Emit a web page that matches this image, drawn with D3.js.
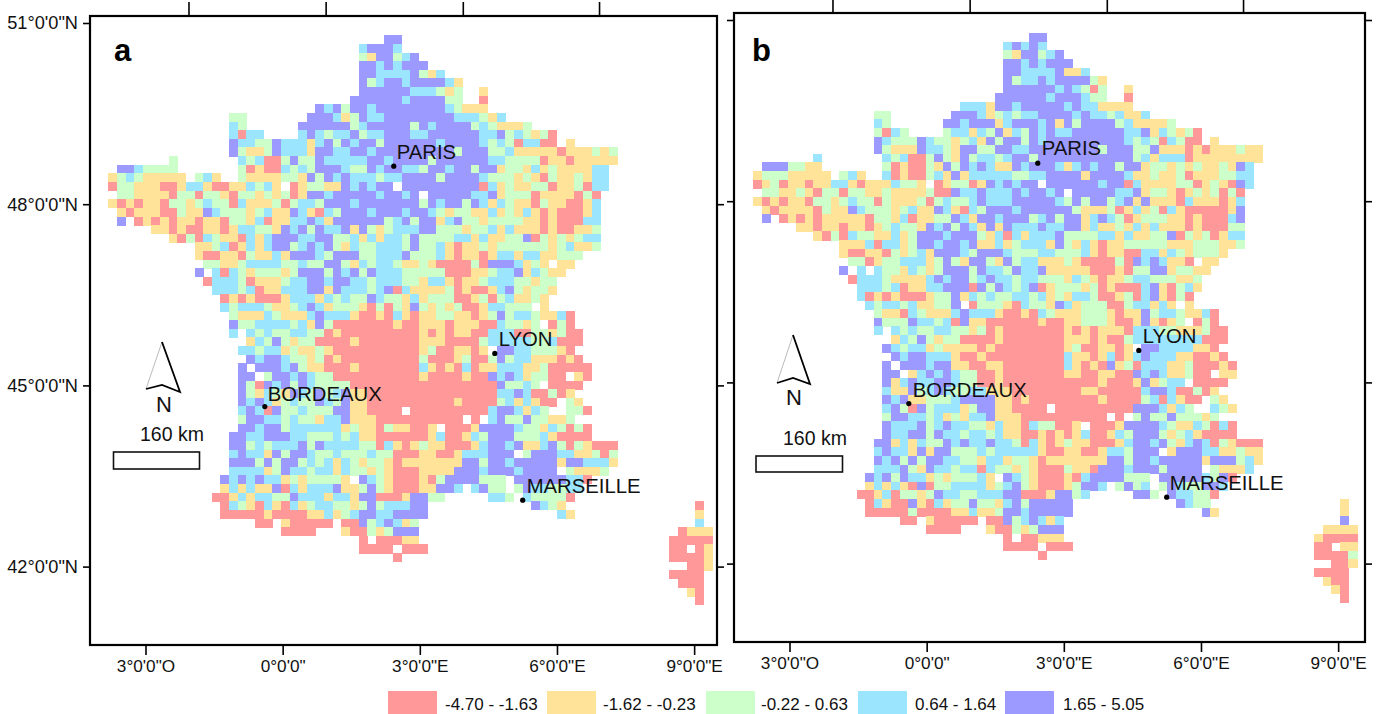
<!DOCTYPE html>
<html><head><meta charset="utf-8">
<style>html,body{margin:0;padding:0;background:#fff;overflow:hidden}text{font-family:"Liberation Sans",Arial,sans-serif;fill:#111}</style>
<script src="https://cdn.jsdelivr.net/npm/d3@7/dist/d3.min.js"></script>
</head><body><svg id="c" width="1383" height="714"></svg>
<script>
const classColors = ["#ffffff","#ff9999","#ffe399","#ccffc9","#9be5ff","#9c99ff"];
const legendLabels = ["-4.70 - -1.63","-1.62 - -0.23","-0.22 - 0.63","0.64 - 1.64","1.65 - 5.05"];
const lonTicks = [-3,0,3,6,9];
const lonLabels = ["3°0'0\"O","0°0'0\"","3°0'0\"E","6°0'0\"E","9°0'0\"E"];
const latTicks = [51,48,45,42];
const latLabels = ["51°0'0\"N","48°0'0\"N","45°0'0\"N","42°0'0\"N"];
const topTicks = [-2.06,0.94,3.94,6.92];
const cities = [["PARIS",2.43,48.63],["LYON",4.64,45.53],["BORDEAUX",-0.39,44.65],["MARSEILLE",5.25,43.10]];

// class of each grid cell, one string per row: "startColumn: classes | startColumn: classes"; 0 = no data
const cellRowsA = [
"32:55",
"29:45554",
"29:3255345",
"29:55454555",
"29:5544445324",
"29:534554555542",
"29:555555 444323 | 43:2",
"28:5555554555533 | 43:1",
"24:54535545555555543222",
"14:33 | 23:55542354455555555444324",
"14:43 | 22:555555345555535455553432223",
"14:4144 | 22:454344534455544555555445343231",
"14:5 44 33 5 444 2 4 5 3 5 4 55 3 555555 4 5555 4 3 4 3 1 44 11 0 2",
"14:5 3 22 3 5 444 2 55 44 55 4 555555555 3 555 33 4 22222 1 222 3 2 3",
"7:3 | 15:4 3 4 11 3 5 33 5 44444 55 4 55 55 3 555555 44 3333 1 22 1 22222",
"1:55 4 3333 | 15:3 1 2 11 4 3 4 3 5 55 4 33 5 4 5 5 4 4 3 55 4 55 3 55 2 33 2 4 2 3 2222 44",
"0:2 3 4 3 22222 0 3 4 2 | 15:3 2222 33 2 5 3 5 4 5 444 3 44 5 555 3 5555 4 333 2 3 2 1 3 22 3 2 44",
"0:1 33 222 11 2 44 2 11 22 4 3 4 2 0 1 2 33 22 5 4 5 4 55 0 555555555 1 4 2 3 22 33 1 22 3 1 44",
"1:33 2222 1 33 1 33 2 1 33 2 3 2 3 1 2 55 4 55555 4 55 4 5 0 55555 44 5 2 333 1 2222 1 3 1",
"0:2 1 2 1 22 1 33 2 3 4 33 1 4 222 3 1 3 44 3 555 4 55555 55 3 5 4 55 3 5 4 2 4 3 22 1 3 22 11 2 4",
"1:2 1 222 11 3 22 5 4 333 2 3 4 22 5 4 2 1 4 3 555 4 555 4 55 4 3 2 33 22 4 2 3 2 4 2 1 2 111 2 4",
"1:5 0 1 2 1 2 1 22 1 22 1 33 2 4 1 22 44 5 4 2 555555 3 4 5 3 55 2 4 5 33 2 3333 22 1 2 111 44",
"5:22 1 2 11 22 1 2 44 33 2 5 4 5 3 5 44 5 2 5 3 2 3 4 44 55 333 2 33 4 2 4 222 1 2 11 22 3",
"7:2 1 3 1 4 3 22 1 4 2 4 555 44 55 33 4 2 4 2 44 3 5 3333 44 2 4 22 33 5 1 3 2 3 2 3 44",
"10:22 3 4 1 2 4 2 4 55 3 4 5 4 5 3 2 4 33 444 3 5 33 4 2 1 22 3 2 333333 2 3 4 22 3",
"10:2 11 22 1 3 22 4 2 555 4 3 555 33 444 5 333 4 2 1 22 1 2 44 2 44 22 333",
"11:33 22 3 4444 33 4 33 55 3 2 4 3 44 3 22 3 2 1111 3 1 555 4 2 3 2 0 22",
"10:5 0 4 1 4 3 2 333 2 3 555 3 5 4 5 3 5 444 33333 111 22 3 44 5 2 4 3 22",
"11:1 444 3 1 222 3 44 55 4 55 44 3 444 33 2 44 2 1 22 3 444 33 2 33",
"12:444 3 4 1 22 444 55 2 5 444 3 4 5 1 4 2222 3 1 2 11 2 4 5 3 2 33 2",
"13:1 2 1 2 111 2 444 2 4 3 4 33 5 4 33 2 4 2 333 11 2 3 1 3 4 22 3 2",
"13:4 3 444 3 22 3 4 5 4 2 333 2 1 3 1 3 2 5 3 2 3 2 3 11 2 44 333 0 2",
"14:3 222 4 3 222 4 5 444 2 11 2 1 4 2 1 22 33 22 1 2 3 5 3 44 3 22 4 1",
"14:5 33 4444 3 4 2 5 3 1111111 2 11 222 1 222 11 4 33 2 3 0 1 3 1",
"14:4 0 4 3 4 33 44 33 1 2 1111111 11 2 1 2 1 22 11 4 44 11 33 2 3 11",
"16:2 4 3 5 3 2 33 1111 2 11111 11 222 1111 3 4 4444 33 4 111",
"15:44 3 44 2 3 22 3 2 11111111 11 2 3 11 22 1 2 0 55 44 333 2 1",
"16:5 4 55 4 33 2 3 1 2 1111111 11 3 111 2 3 11 3 5 3 44 222 1 2 1",
"15:5 0 555 4 5 3 22 111 2 11111 11 4 2 1 2 1 4 1 22 444 22 3 11111",
"15:55 0 3 55 4 5 4 33 11111111 11 2 1111 2 11 5 4 5 4 2 33 11 0 2 1",
"15:5 3 1 5 4 5 3 5 4 33 33 111111 11111111111 5 33 4 3 0 1111",
"15:5 3 2 4 3 2 5 4 3 5 3 4 5 22 1111 11111111111 44 5 4 11 3 1 2",
"15:5 4 5 4 2 3 4 33 5 4 3 5 22 1111111111 2 1111 3 4 2 4 2 11 0 3 2",
"15:4 5 4 1 5 33 4 333 55 22 1111 0 111111111 4 55 4 2 4 3 00 33 1",
"15:3 55 44 3 4 33 2 44 5 222 1111111111 0 1 0 4 5 33 5 33 22 3",
"15:55 4 55 3 444444 2 3 22 1 3 22 11 2 0 11 1 2 5555 4 33 2 4 3 1 3 1",
"14:55 44 555 44 333 4 3 4 22 111111 2 4 11 2 4 3 555 333 4 2 1111",
"14:55 3 4 3 444 5 3 5 4444 33 1 4 2 1 2 3 22 111 2 4 55 4 5 22 4 5 3 1 3 2 111",
"14:4 5 44 2 5 3 55 4 33 4 333 4 33 111 22 11 2 444 555 0 3 555 44 22 3 1 3",
"14:555 3 5 3 55 3 4 3 4 2 4 3 2 33 2 1 2222222 55 3 55 4 55555 2 55 444 2",
"14:4444 2 3 5 44 3 44 2 4 33 2 3 2 111 2222 555 4 555 4 5555 0 3 222 3",
"13:5 4 5 4 5 44 2 3 2 3333 2 0 5 4 3 2 111 2 1 3 5555 333 0 555555 44 1",
"13:2 4 2 4 22 5 1 4 2 444 5 22 3 5 3 2 111 22 55 4 0 4 5 33 0 3 5 44 33 44",
"12:11 2 4 2 44 33 5 444 2 44 2 55 111 2 55 33 | 44:44 3 0 4 3333 1",
"13:1 4 3 2 1 4 2 1 4 2 3 44 33 2 3 5 3 444 55 | 49:5 4 3 2 | 68:1",
"13:11111 2 1111 22 4 2 3 4 55 44 5555 | 52:4 2 | 68:2",
"17:11 0 2 11111 0 11 5 3 4 5 4 2 3 | 68:4",
"20:1111 000 2 11 3 2 3 555 | 66:1 222",
"29:1 0 111 22 | 65:11111",
"29:1111 0 111 | 65:11 0 1 2",
"33:1 | 65:1111 2",
"67:11 2",
"65:1111",
"66:111",
"67:2 1",
"68:1"
];
const cellRowsB = [
"32:55",
"29:4 5 4 5 4",
"29:3 2 55 3 4 5",
"29:5 5 4 5 4 555",
"29:55 4444 5 22 4",
"29:5 3 44 5 4 5555 3 2",
"29:555555 4 5 4 3 1 3 | 43:2",
"28:555555 4 555 4 33 | 43:1",
"24:444 2 55 4 55555 4 5 44 2222",
"14:33 | 23:555 4 2 3 4 3 44 5555 4 5 44 3 4 22 4",
"14:43 | 22:55 4 555 2 4 555 4 5 2 5 3 5555 3 4 2222 3",
"14:3 1 4 3 | 22:3 44 2 4 3 5 2 4 3 5 4 5 44 555555 44 5 2 4 3 2 3 1",
"14:5 4 333 5 4 33 2 3 4 2 5 3 55 3 5 4 555555555 4 3 4 3 1 4 3 11 0 2",
"14:5 3 222 5 44 3 2 55 33 55 44 5 5555555 3 555 33 5 222 1 2 1 222 3 22",
"7:4 | 15:4 3 4 11 3 5 3 2 5 3 44 3 4 55 3 55555555555 3 4 2 444 1 22222222",
"1:555 33 22 | 15:3 1 2 11 3 2 5 3 5 4 5 4 22 5 4 555 4 2 4 5 4 55 3 55 2 33 2 3 2 3 22 3 2 5 4",
"0:2 333 22222 0 3 4 2 | 15:4 1 2 11 3 4 2 5 2 44 444 33 44 5555 2 5555 4 22 3 22 3 1 222 33 44",
"0:1 2 3 1 22 1 22 44 2 1 222 4 33 2 0 1 2 33 1 2 5 4 5 4 55 0 555555 4 55 1 4 2222 33 1 2 3 2 1 5 4",
"1:33 22 3 2 1 33 1 33 22 3 2222 3 11 5 44 5 444 5 4 55 4 5 0 55555 44 5 2 33 2 1 2 3 2 3 1 3 1",
"0:2 1 2 1 22 1 33 2 3 4 33 1 3 222 3 1 3 4 33 4 5 444 55555 4 3 5 3 55 3 4 5 2 5 222 1 4 222 1 2 4",
"1:2 1 2222 1 3 22 5 4 333 2 3 4 22 5 4 2 1 4 3 555 4 555555 3 222 3 1 2 4 2 3 1 4 2 11111 2 5",
"1:5 0 1 2 1 2 1 22222 1 33 2 4 1 22 33 5 4 2 55 4 5 55 3 4 5 3 55 2 4 5 4 3 1 2 333 22 1 2 111 4 5",
"5:22 1 22 1 22 1 2 3 4 33 2 5 4 5 3 5 4 2 5 2 5 444 5 44 55 2 4 22 3 2 4 2 4 222 1 2 111 33",
"7:2 1 3 1 4 33 22 4 2 3 555 4 555 3 2 4 1 4 2 44 4 5 3333 44 2 4 22 33 5 1 3 2 3 1 2 44",
"10:222 4 1 44 2 3 55 4 55 4 5 22 4 2 3 444 2 5 3 2 4 2 1 22 33 333 222 333 22 3",
"10:2 11 22 1 3 2 3 4 2 555 4 3 555 4 333 44 333 4 2 1 22 11 44 2 4 3 2 333 2",
"11:33 1 2 33 444 2 3 5 3 2 55 3 2 5 3 44 222 3 2 1111 3 1 5 4 5 4 22 1 0 22",
"10:5 0 4 0 4 33 2 4 3 2 3 555 3 5 44 3 5 44 5 22222 111 2 1 33 55 2 33 22",
"11:1 444 3 2222 4 5 4 55 3 4 5 44 3 44 333 2 4 3 2 1 22 3 44 333 22 3",
"12:444 3 4 1 22 44 555 1 5 3 5 4 3 4 5 1 2 333 2 3 1 2 111 4 5 2 1 3 4 2",
"12:4 1 2 1 2 111 2 33 5 2 4 3 4 33 44 3 4 2 3 2 44 3 11 2 3 1 4 5 2 1 3 1",
"13:4 3 44 3 4 22 33 5 0 1 333 2 1 4 33 2 5 4 2 333 11 3 44 2 4 2 0 2",
"14:3 22 1 4 3 222 4 5 444 2 11 2 1 4 3 222 333 2 1 22 5 3 44 3 22 4 1",
"14:5 333 5 44 3 4 1 5 22 111 111 2 11 22 333 2 11 2 5 2 1 2 3 0 1 3 1",
"14:4 0 4 3 4 33 44 33 2 3 1 2 1111111 2 1 2 1 222 1 4 44 33 222 3 11",
"16:2 4 3 5 3 2 33 1111 2 1111111 222 1 2 11 3 4 444444 4 111",
"15:5 4 3 44 2 3 2222 1 2 11111111 2 3 11 22 1 2 0 55 4444 22 1",
"16:5 4 55 444 2 11 2 111111111 4 22 1 2 4 1 2 4 5 444 22 11 2 1",
"15:5 0 555 4 55 22 11 22 1111111 4 2 1 2 1 5 2 3 1 444 22 3 111 2 1",
"15:55 0 2 4 5 4 5 4 33 11 2 1111111 22 11 22 11 5 4 5 4 22 3 11 0 22",
"15:5 2 4 5 44 55 4 33 11 2 11111111111 2 111 2 5 2 3 44 0 1111",
"15:4 2 2 5 3 4 5 4 33 44 2 22 11111111 22 11111 4 55 4 11 3 1 2",
"15:5 4 5 22 333 4 5555 22 1 2 11111111 2 1111 3 4 1 4 2 11 0 3 2",
"15:4 5 3 1 5 3 4 44 2 3 55 22 1111 0 111111111 555 4 2 4 3 00 4 3 2",
"15:3 55 44 3 4 2 3 2 44 5 222 1111111111 0 1 0 3 5 33 5 333 2 3",
"15:5 444 5 3 4 5 44 33 2 4 22 1 4 33 11 2 0 111 2 5555 4 3 22 4 3 1 4 1",
"15:5 44 55 3 5 44 3 44 3 4 22 11 2 1 2 1 2 4 11 2 4 3 555 3 2 3 4 2 1111",
"14:55 2 4 2 4 33 5 4 5 44 5 44 3 1 4 2 1 2 3 22 111 2 4 55 4 5 3 2 4 5 4 1 3 2 111",
"14:4 5 44 2 5 2 55 333 4 3 44 444 2 11 22 11 2 44 3 555 0 2 555 44 22 3 22",
"14:5 4 5 3 5 3 55 44 33 2 4 4 2 33 2 1 2222222 55 3 55 4 55555 2 555 3 4 2",
"14:444 5 3 2 5 44 3 44 1 4 33 2 3 2 111 3 22 1 555 4 555 3 5555 0 3 222 4",
"13:5 4 5 3 5 44 2 3 2 333 4 2 0 5 4 3 2 111 2 1 4 5555 333 0 55555 4 3 5 1",
"13:2 4 2 4 2 1 5 1 33 444 4 2 3 4 5 3 2 111 2 3 55 4 0 3 5 3 4 0 3 5 4 33 55 4",
"12:11 2 4 1 33 2 3 5 44 33 444 55 111 2 55 3 4 | 44:55 3 0 5 44 33 1",
"13:1 4 2 11 5 2 1 4 2 33 5 33 2 4 5 3 55555 | 49:5 4 33 | 68:2",
"13:11111 3 1111 22 4 22 3 55 4 55555 | 52:5 2 | 68:2",
"17:11 0 2 11111 0 11 5 3 4 5 4 2 4 | 68:5",
"20:1111 000 2 11 3 2 3 555 | 66:2222",
"29:1 0 11 222 | 65:2 1111",
"29:1111 0 111 | 65:11 0 22",
"33:1 | 65:1111 3",
"67:11 2",
"65:1111",
"66:2 11",
"67:2 1",
"68:1"
];

function parseRows(rows){
  const cells=[];
  rows.forEach((s,row)=>s.split("|").forEach(seg=>{
    const [st,d]=seg.split(":");
    [...d.replace(/\s/g,"")].forEach((ch,i)=>{ if(ch!=="0") cells.push({col:+st+i,row,cls:+ch}); });
  }));
  return cells;
}

const svg=d3.select("#c");
const panels=[
 {name:"a",rows:cellRowsA,frame:[90,16,717,645],gridX:108.3,gridY:35.3,lon0:145.5,lat0:23,
  nameX:114,nameY:61,arrow:[[162,342],[146,389],[162,385],[180,392]],nXY:[164,412],kmXY:[172,441],box:[113.5,452,199.5,469],
  labelOff:[[3,-7],[4,-7],[3,-6],[4,-7]]},
 {name:"b",rows:cellRowsB,frame:[734,13,1365,642],gridX:753,gridY:33,lon0:789.5,lat0:20,
  nameX:752,nameY:61,arrow:[[793,335],[777,383],[793,378],[810,384]],nXY:[794,405],kmXY:[815,445],box:[756,456,842.5,472],
  labelOff:[[4,-8],[4,-7],[4,-7],[3,-7]]}
];
const step=8.63, pxPerLon=45.72, pxPerLat=60.4;

panels.forEach(p=>{
  const g=svg.append("g");
  const cx=d3.scaleLinear().domain([0,70]).range([p.gridX,p.gridX+70*step]);
  const cy=d3.scaleLinear().domain([0,66]).range([p.gridY,p.gridY+66*step]);
  const color=d3.scaleOrdinal().domain(d3.range(6)).range(classColors);
  g.append("g").attr("shape-rendering","crispEdges").selectAll("rect").data(parseRows(p.rows)).join("rect")
    .attr("x",d=>cx(d.col)).attr("y",d=>cy(d.row))
    .attr("width",d=>cx(d.col+1)-cx(d.col)+0.4).attr("height",d=>cy(d.row+1)-cy(d.row)+0.4)
    .attr("fill",d=>color(d.cls));

  const [x0,y0,x1,y1]=p.frame;
  const lon=d3.scaleLinear().domain([-3,9]).range([p.lon0,p.lon0+12*pxPerLon]);
  const lat=d3.scaleLinear().domain([51,42]).range([p.lat0,p.lat0+9*pxPerLat]);

  const bot=g.append("g").attr("transform",`translate(0,${y1})`)
    .call(d3.axisBottom(lon).tickValues(lonTicks).tickSize(10).tickFormat((d,i)=>lonLabels[i]));
  bot.selectAll("text").attr("y",15).attr("dy","0.71em").style("font-size","17.2px").style("font-family","Liberation Sans").attr("fill","#111");
  g.append("g").attr("transform",`translate(0,${y0})`)
    .call(d3.axisTop(lon).tickValues(topTicks).tickSize(14).tickFormat(""));
  g.append("g").attr("transform",`translate(${x1},0)`)
    .call(d3.axisRight(lat).tickValues(latTicks.slice(p.name==="a"?1:0)).tickSize(7).tickFormat(""));
  const left=g.append("g").attr("transform",`translate(${x0},0)`)
    .call(d3.axisLeft(lat).tickValues(latTicks).tickSize(7).tickFormat(p.name==="a"?(d,i)=>latLabels[i]:""));
  left.selectAll("text").attr("x",-12).style("font-size","18.2px").style("font-family","Liberation Sans").attr("fill","#111");
  g.selectAll(".domain").remove();
  g.selectAll(".tick line").attr("stroke","#000").attr("stroke-width",1.6);

  g.append("rect").attr("x",x0).attr("y",y0).attr("width",x1-x0).attr("height",y1-y0)
    .attr("fill","none").attr("stroke","#000").attr("stroke-width",2.2);

  g.append("text").attr("x",p.nameX).attr("y",p.nameY).text(p.name)
    .style("font-size","31px").style("font-weight","bold").style("fill","#000");

  cities.forEach(([n,lo,la],i)=>{
    const px=lon(lo), py=lat(la);
    g.append("circle").attr("cx",px).attr("cy",py).attr("r",2.6).attr("fill","#000");
    g.append("text").attr("x",px+p.labelOff[i][0]).attr("y",py+p.labelOff[i][1]).text(n).style("font-size","20.3px");
  });

  const [ap,l,nt,r]=p.arrow;
  g.append("path").attr("d",`M${ap}L${l}`).attr("stroke","#bbb").attr("stroke-width",1).attr("fill","none");
  g.append("path").attr("d",`M${ap}L${r}L${nt}L${l}`).attr("stroke","#000").attr("stroke-width",1.8).attr("fill","none").attr("stroke-linejoin","miter");
  g.append("text").attr("x",p.nXY[0]).attr("y",p.nXY[1]).attr("text-anchor","middle").text("N").style("font-size","22px");
  g.append("text").attr("x",p.kmXY[0]).attr("y",p.kmXY[1]).attr("text-anchor","middle").text("160 km").style("font-size","19.5px");
  const b=p.box;
  g.append("rect").attr("x",b[0]).attr("y",b[1]).attr("width",b[2]-b[0]).attr("height",b[3]-b[1])
    .attr("fill","none").attr("stroke","#111").attr("stroke-width",1.6);
});

const legendX=[388,547,706,858,1005], legendTextX=[445,603,761,915,1063];
const lg=svg.append("g");
legendLabels.forEach((t,i)=>{
  lg.append("rect").attr("x",legendX[i]).attr("y",691).attr("width",49).attr("height",23).attr("fill",classColors[i+1]);
  lg.append("text").attr("x",legendTextX[i]).attr("y",710).text(t).style("font-size","17px");
});
</script></body></html>
